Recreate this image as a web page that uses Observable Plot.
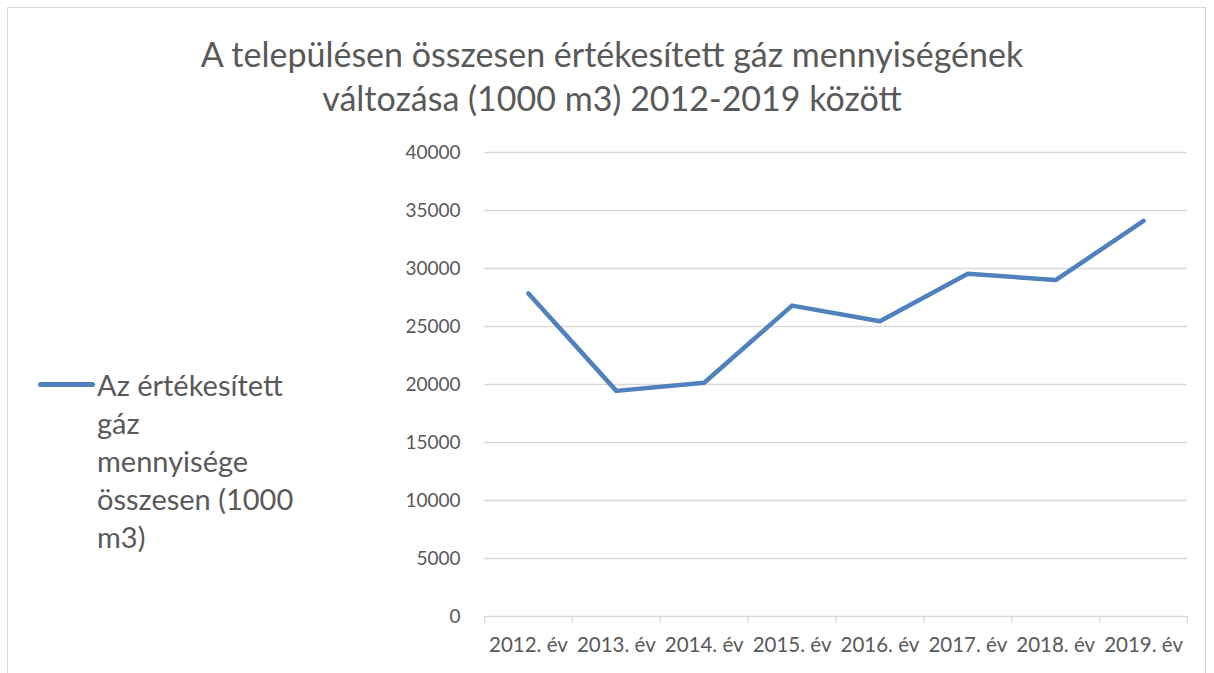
<!DOCTYPE html>
<html><head><meta charset="utf-8">
<script src="https://cdn.jsdelivr.net/npm/d3@7"></script>
<script src="https://cdn.jsdelivr.net/npm/@observablehq/plot@0.6"></script>
<style>
body{margin:0;background:#fff;}
#wrap{position:relative;width:1214px;height:673px;overflow:hidden;font-family:Lato,"Open Sans",sans-serif;color:#595959;background:#fff;}
#frame{position:absolute;left:7px;top:7px;width:1199px;height:720px;border:1px solid #d9d9d9;box-sizing:border-box;}
#title{position:absolute;left:0;width:1224px;top:32px;text-align:center;font-size:34px;line-height:44px;}
#legend{position:absolute;left:38px;top:366px;font-size:29px;line-height:38px;}
#legend .sw{position:absolute;left:0;top:16px;width:57px;height:4.5px;border-radius:3px;background:#4f81bd;}
#legend .txt{position:absolute;left:59px;top:0;white-space:nowrap;}
#chart{position:absolute;left:0;top:0;}
</style></head>
<body><div id="wrap"><div id="frame"></div><div id="chart"></div><div id="title"></div><div id="legend"></div></div>
<script>
const titleLines = ["A településen összesen értékesített gáz mennyiségének", "változása (1000 m3) 2012-2019 között"];
const years = ["2012. év","2013. év","2014. év","2015. év","2016. év","2017. év","2018. év","2019. év"];
const values = [27850, 19450, 20150, 26800, 25450, 29550, 29000, 34100];
const yTicks = [0,5000,10000,15000,20000,25000,30000,35000,40000];
const seriesLines = ["Az értékesített","gáz","mennyisége","összesen (1000","m3)"];
const lineColor = "#4f81bd";

document.getElementById("title").innerHTML = titleLines.join("<br>");
document.getElementById("legend").innerHTML = '<div class="sw"></div><div class="txt">' + seriesLines.join("<br>") + '</div>';

const data = years.map((y, i) => ({year: y, idx: i + 0.5, value: values[i]}));
const bounds = d3.range(0, years.length + 1);
const centers = data.map(d => d.idx);

const chart = Plot.plot({
  width: 1214,
  height: 673,
  marginLeft: 484,
  marginRight: 27,
  marginTop: 152,
  marginBottom: 57,
  style: {fontFamily: "Lato, 'Open Sans', sans-serif", background: "transparent", color: "#595959"},
  x: {type: "linear", domain: [0, years.length]},
  y: {domain: [0, 40000]},
  marks: [
    Plot.gridY(yTicks, {stroke: "#d9d9d9", strokeOpacity: 1, strokeWidth: 1.3}),
    Plot.axisY(yTicks, {tickSize: 0, tickPadding: 24, fontSize: 19, fill: "#595959", tickFormat: d => String(d), label: null}),
    Plot.axisX(bounds, {tickSize: 7, stroke: "#d9d9d9", strokeWidth: 1.3, tickFormat: () => "", label: null}),
    Plot.axisX(centers, {tickSize: 0, tickPadding: 21, fontSize: 20.5, fill: "#595959", tickFormat: d => years[Math.round(d - 0.5)], label: null}),
    Plot.lineY(data, {x: "idx", y: "value", stroke: lineColor, strokeWidth: 4.5, strokeLinecap: "round", strokeLinejoin: "round"})
  ]
});
document.getElementById("chart").appendChild(chart);
</script>
</body></html>
